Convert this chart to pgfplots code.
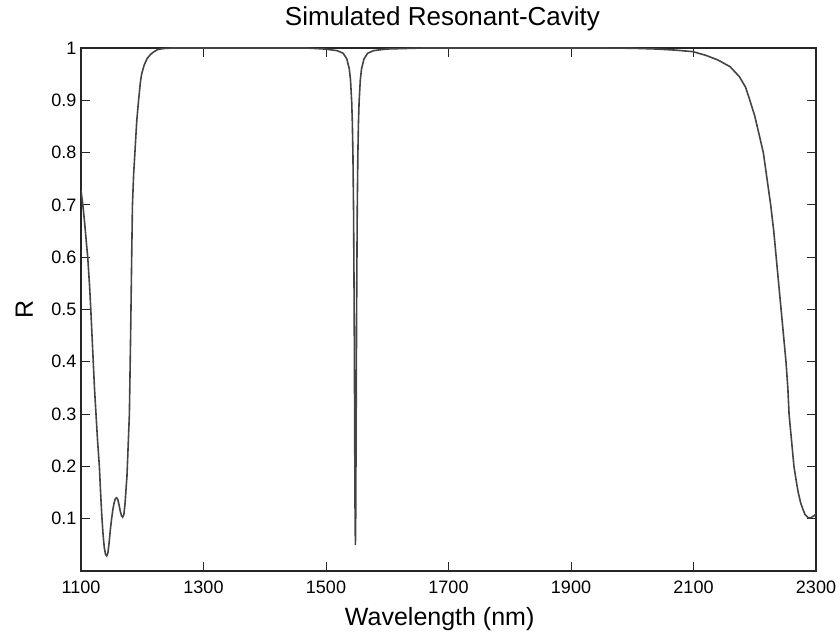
\documentclass[border=0pt]{standalone}
\usepackage{fontspec}
\setmainfont{Liberation Sans}
\usepackage{pgfplots}
\pgfplotsset{compat=1.18}
\definecolor{curve}{RGB}{68,68,68}
\definecolor{axcol}{RGB}{38,38,38}
\begin{document}
\begin{tikzpicture}
\path[use as bounding box] (-81pt,-63pt) rectangle (759pt,571pt);
\begin{axis}[
  at={(0,0)}, anchor=south west,
  scale only axis, width=735pt, height=523pt,
  xmin=1100, xmax=2300, ymin=0, ymax=1,
  xtick={1100,1300,1500,1700,1900,2100,2300},
  ytick={0.1,0.2,0.3,0.4,0.5,0.6,0.7,0.8,0.9,1},
  tick align=inside, major tick length=9pt,
  xtick pos=both, ytick pos=both,
  axis line style={axcol, line width=1.1pt},
  every tick/.style={axcol, line width=1pt},
  /pgf/number format/assume math mode=true,
  /pgf/number format/1000 sep={},
  yticklabel style={/pgf/number format/fixed, /pgf/number format/precision=1},
  tick label style={font=\fontsize{18}{20}\selectfont, text=black},
  xticklabel style={anchor=base, yshift=-22pt},
  yticklabel style={anchor=east, xshift=-1pt},
  title={Simulated Resonant-Cavity},
  title style={font=\fontsize{26}{28}\selectfont, at={(axis description cs:0.5,1)}, anchor=base, yshift=16pt, xshift=-6pt},
  xlabel={Wavelength (nm)},
  xlabel style={font=\fontsize{25}{27}\selectfont, at={(axis description cs:0.488,0)}, anchor=base, yshift=-54pt},
  ylabel={R},
  ylabel style={font=\fontsize{25}{27}\selectfont, at={(axis description cs:-0.0653,0.5)}, anchor=base},
]
\addplot[curve, line width=1.6pt] coordinates {
(1100,0.728) (1103,0.70) (1106,0.665) (1109,0.625) (1111,0.60) (1114,0.545)
(1116,0.50) (1118,0.45) (1120,0.40) (1122,0.35) (1124.5,0.30) (1127,0.25)
(1130,0.20) (1132,0.15) (1134,0.105) (1136,0.07) (1138,0.045) (1140,0.032)
(1142,0.029) (1144,0.035) (1146,0.055) (1148,0.08) (1150,0.10) (1152,0.117)
(1154,0.13) (1156,0.138) (1158,0.14) (1160,0.137) (1162,0.127) (1164,0.115)
(1166,0.106) (1168,0.103) (1170,0.108) (1172,0.13) (1174,0.165) (1175,0.18)
(1177,0.24) (1179,0.30) (1181,0.45) (1183,0.62) (1184,0.70) (1186,0.76)
(1188,0.80) (1191,0.86) (1194,0.90) (1197,0.935) (1199,0.95) (1203,0.967)
(1208,0.98) (1213,0.987) (1218,0.992) (1225,0.997) (1235,0.999) (1250,1.0)
(1468,1.0) (1498,0.998) (1518,0.995) (1528,0.990) (1534,0.979) (1538,0.960)
(1540,0.939) (1542,0.896) (1543,0.858) (1544,0.795) (1545,0.688) (1546,0.502)
(1546.5,0.371) (1547,0.225) (1547.5,0.101) (1548,0.05) (1548.5,0.101)
(1549,0.225) (1549.5,0.371) (1550,0.502) (1551,0.688) (1552,0.795)
(1553,0.858) (1554,0.896) (1556,0.939) (1558,0.960) (1562,0.979)
(1568,0.990) (1578,0.995) (1598,0.998) (1628,0.999) (1660,1.0)
(1950,1.0) (2000,0.9995) (2040,0.998) (2070,0.996) (2099,0.993) (2120,0.986)
(2140,0.977) (2160,0.964) (2175,0.945) (2185,0.925) (2192,0.90) (2200,0.87)
(2207,0.835) (2214,0.80) (2220,0.75) (2226,0.70) (2231,0.65) (2235,0.60)
(2239,0.55) (2243,0.50) (2247,0.45) (2251,0.40) (2254,0.35) (2256,0.30)
(2260,0.25) (2264,0.20) (2268,0.17) (2271,0.15) (2275,0.13) (2278,0.12)
(2282,0.108) (2287,0.102) (2292,0.102) (2296,0.105) (2300,0.109)
};
\end{axis}
\end{tikzpicture}
\end{document}
